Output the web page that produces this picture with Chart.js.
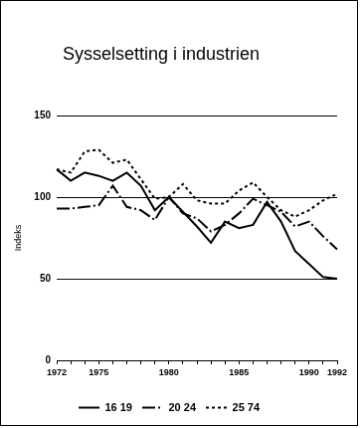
<!DOCTYPE html>
<html>
<head>
<meta charset="utf-8">
<style>
  body { margin: 0; background: #fff; }
  canvas { display: block; border: 1px solid #000; }
</style>
<script src="https://cdn.jsdelivr.net/npm/chart.js@4"></script>
</head>
<body>
<canvas id="chart" width="358" height="426"></canvas>
<script>
    // Sysselsetting i industrien, indeks (1980 = 100)
    const years = ['1972', '1973', '1974', '1975', '1976', '1977', '1978', '1979', '1980', '1981',
                   '1982', '1983', '1984', '1985', '1986', '1987', '1988', '1989', '1990', '1991', '1992'];
    const shownYears = ['1972', '1975', '1980', '1985', '1990', '1992'];
    const age1619 = [117, 110, 115, 113, 110, 115, 107, 92, 100, 91, 82, 72, 85, 81, 83, 97, 85, 67, 59, 51, 50];
    const age2024 = [93, 93, 94, 95, 107, 94, 92, 86, 100, 90, 87, 79, 83, 90, 99, 95, 91, 82, 85, 76, 68];
    const age2574 = [117, 115, 128, 129, 121, 123, 111, 99, 100, 108, 98, 96, 96, 104, 109, 100, 92, 88, 92, 98, 102];
    const yTicks = [0, 50, 100, 150];

    const titleText = 'Sysselsetting i industrien';
    const fontFamily = "'Liberation Sans', Arial, sans-serif";

    Chart.defaults.color = '#000';
    Chart.defaults.font.family = fontFamily;

    // draw the title at the same spot as in the original
    const titlePlugin = {
        id: 'plainTitle',
        afterDraw(chart) {
            const ctx = chart.ctx;
            ctx.save();
            ctx.fillStyle = '#000';
            ctx.font = '18px ' + fontFamily;
            ctx.textBaseline = 'alphabetic';
            ctx.textAlign = 'left';
            ctx.fillText(titleText, 62, 59);
            ctx.restore();
        }
    };

    const ctx = document.getElementById('chart').getContext('2d');
    new Chart(ctx, {
        type: 'line',
        data: {
            labels: years,
            datasets: [
                {
                    label: '16 19',
                    data: age1619,
                    borderColor: '#000',
                    backgroundColor: '#000',
                    borderWidth: 2,
                    borderDash: []
                },
                {
                    label: '20 24',
                    data: age2024,
                    borderColor: '#000',
                    backgroundColor: '#000',
                    borderWidth: 2,
                    borderDash: [13, 3, 2, 3]
                },
                {
                    label: '25 74',
                    data: age2574,
                    borderColor: '#000',
                    backgroundColor: '#000',
                    borderWidth: 2,
                    borderDash: [3, 3]
                }
            ]
        },
        options: {
            responsive: false,
            animation: false,
            layout: {
                padding: { top: 115, right: 20, bottom: 2, left: 0 }
            },
            elements: {
                point: { radius: 0, hoverRadius: 0 },
                line: { tension: 0, fill: false }
            },
            scales: {
                x: {
                    type: 'category',
                    offset: false,
                    grid: {
                        drawOnChartArea: false,
                        drawTicks: true,
                        tickLength: 4,
                        color: '#000',
                        lineWidth: 1
                    },
                    border: { display: true, color: '#000', width: 1 },
                    ticks: {
                        autoSkip: false,
                        maxRotation: 0,
                        minRotation: 0,
                        padding: 3,
                        font: { size: 9, weight: 'bold' },
                        callback: function (value) {
                            const label = this.getLabelForValue(value);
                            return shownYears.includes(label) ? label : '';
                        }
                    },
                    afterFit: scale => { scale.height = 32; }
                },
                y: {
                    min: 0,
                    max: 150,
                    afterBuildTicks: scale => {
                        scale.ticks = yTicks.map(v => ({ value: v }));
                    },
                    grid: {
                        drawTicks: false,
                        color: '#000',
                        lineWidth: 1
                    },
                    border: { display: false },
                    ticks: {
                        padding: 6,
                        font: { size: 10, weight: 'bold' }
                    },
                    title: {
                        display: true,
                        text: 'Indeks',
                        font: { size: 9 },
                        padding: { top: 12, bottom: 0 }
                    },
                    afterFit: scale => { scale.width = 56; }
                }
            },
            plugins: {
                title: { display: false },
                tooltip: { enabled: false },
                legend: {
                    position: 'bottom',
                    labels: {
                        usePointStyle: true,
                        pointStyle: 'line',
                        pointStyleWidth: 21,
                        boxWidth: 21,
                        boxHeight: 10,
                        padding: 10,
                        font: { size: 11, weight: 'bold' },
                        color: '#000',
                        // keep the dash pattern of each line in the legend
                        generateLabels: chart => {
                            const items = Chart.defaults.plugins.legend.labels.generateLabels(chart);
                            items.forEach(item => {
                                const ds = chart.data.datasets[item.datasetIndex];
                                item.lineDash = ds.borderDash;
                                item.lineWidth = 2;
                                item.strokeStyle = '#000';
                            });
                            return items;
                        }
                    }
                }
            }
        },
        plugins: [titlePlugin]
    });
</script>
</body>
</html>
